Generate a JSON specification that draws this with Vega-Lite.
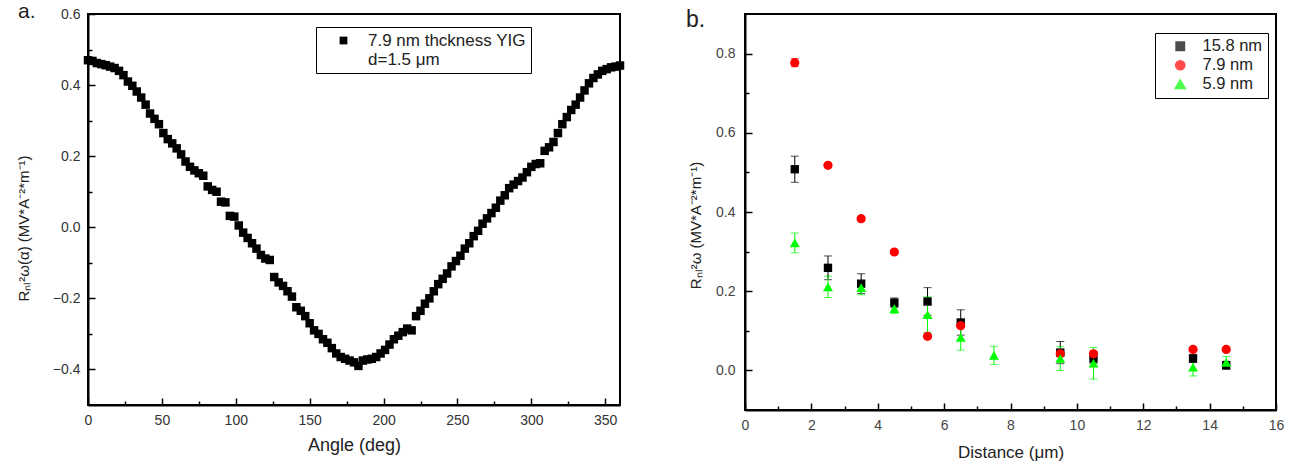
{
  "$schema": "https://vega.github.io/schema/vega-lite/v6.json",
  "background": "white",
  "padding": {"left": 15, "top": 0, "right": 5, "bottom": 5},
  "spacing": 59,
  "resolve": {
    "scale": {"color": "independent", "shape": "independent", "size": "independent"},
    "legend": {"color": "independent", "shape": "independent", "size": "independent"}
  },
  "config": {
    "font": "Liberation Sans",
    "view": {"stroke": "black", "strokeWidth": 2},
    "axis": {
      "grid": false, "domainColor": "black", "domainWidth": 2, "tickColor": "black", "tickWidth": 1.5,
      "labelFont": "Liberation Sans", "labelFontSize": 14, "labelColor": "#333333",
      "titleFont": "Liberation Sans", "titleFontSize": 18, "titleFontWeight": "normal", "titleColor": "#222222",
      "labelFlush": false, "labelOverlap": false
    },
    "title": {"fontSize": 23, "fontWeight": "normal", "anchor": "start", "frame": "group", "baseline": "alphabetic", "color": "#222222"},
    "legend": {"strokeColor": "black", "fillColor": "white", "labelFont": "Liberation Sans", "labelFontSize": 16.5, "labelColor": "#222222", "labelLimit": 0}
  },
  "hconcat": [
    {
      "width": 532, "height": 391,
      "title": {"text": "a.", "dx": -70, "offset": -15, "fontSize": 21},
      "data": {"values": [
        {"a":0,"r":0.470,"s":"YIG"},{"a":3,"r":0.468,"s":"YIG"},{"a":6,"r":0.462,"s":"YIG"},{"a":9,"r":0.459,"s":"YIG"},
        {"a":12,"r":0.456,"s":"YIG"},{"a":15,"r":0.452,"s":"YIG"},{"a":18,"r":0.448,"s":"YIG"},{"a":21,"r":0.440,"s":"YIG"},
        {"a":24,"r":0.428,"s":"YIG"},{"a":27,"r":0.410,"s":"YIG"},{"a":30,"r":0.398,"s":"YIG"},{"a":33,"r":0.382,"s":"YIG"},
        {"a":36,"r":0.365,"s":"YIG"},{"a":39,"r":0.345,"s":"YIG"},{"a":42,"r":0.320,"s":"YIG"},{"a":45,"r":0.305,"s":"YIG"},
        {"a":48,"r":0.290,"s":"YIG"},{"a":51,"r":0.265,"s":"YIG"},{"a":54,"r":0.248,"s":"YIG"},{"a":57,"r":0.236,"s":"YIG"},
        {"a":60,"r":0.222,"s":"YIG"},{"a":63,"r":0.205,"s":"YIG"},{"a":66,"r":0.185,"s":"YIG"},{"a":69,"r":0.170,"s":"YIG"},
        {"a":72,"r":0.160,"s":"YIG"},{"a":75,"r":0.152,"s":"YIG"},{"a":78,"r":0.145,"s":"YIG"},{"a":81,"r":0.115,"s":"YIG"},
        {"a":84,"r":0.105,"s":"YIG"},{"a":87,"r":0.100,"s":"YIG"},{"a":90,"r":0.072,"s":"YIG"},{"a":93,"r":0.070,"s":"YIG"},
        {"a":96,"r":0.032,"s":"YIG"},{"a":99,"r":0.030,"s":"YIG"},{"a":102,"r":0.005,"s":"YIG"},{"a":105,"r":-0.015,"s":"YIG"},
        {"a":108,"r":-0.030,"s":"YIG"},{"a":111,"r":-0.045,"s":"YIG"},{"a":114,"r":-0.060,"s":"YIG"},{"a":117,"r":-0.078,"s":"YIG"},
        {"a":120,"r":-0.088,"s":"YIG"},{"a":123,"r":-0.092,"s":"YIG"},{"a":126,"r":-0.140,"s":"YIG"},{"a":129,"r":-0.155,"s":"YIG"},
        {"a":132,"r":-0.165,"s":"YIG"},{"a":135,"r":-0.180,"s":"YIG"},{"a":138,"r":-0.195,"s":"YIG"},{"a":141,"r":-0.225,"s":"YIG"},
        {"a":144,"r":-0.235,"s":"YIG"},{"a":147,"r":-0.250,"s":"YIG"},{"a":150,"r":-0.270,"s":"YIG"},{"a":153,"r":-0.290,"s":"YIG"},
        {"a":156,"r":-0.300,"s":"YIG"},{"a":159,"r":-0.315,"s":"YIG"},{"a":162,"r":-0.325,"s":"YIG"},{"a":165,"r":-0.340,"s":"YIG"},
        {"a":168,"r":-0.355,"s":"YIG"},{"a":171,"r":-0.365,"s":"YIG"},{"a":174,"r":-0.370,"s":"YIG"},{"a":177,"r":-0.375,"s":"YIG"},
        {"a":180,"r":-0.380,"s":"YIG"},{"a":183,"r":-0.390,"s":"YIG"},{"a":186,"r":-0.375,"s":"YIG"},{"a":189,"r":-0.372,"s":"YIG"},
        {"a":192,"r":-0.370,"s":"YIG"},{"a":195,"r":-0.365,"s":"YIG"},{"a":198,"r":-0.355,"s":"YIG"},{"a":201,"r":-0.345,"s":"YIG"},
        {"a":204,"r":-0.330,"s":"YIG"},{"a":207,"r":-0.315,"s":"YIG"},{"a":210,"r":-0.305,"s":"YIG"},{"a":213,"r":-0.295,"s":"YIG"},
        {"a":216,"r":-0.285,"s":"YIG"},{"a":219,"r":-0.290,"s":"YIG"},{"a":222,"r":-0.250,"s":"YIG"},{"a":225,"r":-0.235,"s":"YIG"},
        {"a":228,"r":-0.215,"s":"YIG"},{"a":231,"r":-0.200,"s":"YIG"},{"a":234,"r":-0.180,"s":"YIG"},{"a":237,"r":-0.160,"s":"YIG"},
        {"a":240,"r":-0.145,"s":"YIG"},{"a":243,"r":-0.130,"s":"YIG"},{"a":246,"r":-0.110,"s":"YIG"},{"a":249,"r":-0.095,"s":"YIG"},
        {"a":252,"r":-0.080,"s":"YIG"},{"a":255,"r":-0.060,"s":"YIG"},{"a":258,"r":-0.045,"s":"YIG"},{"a":261,"r":-0.025,"s":"YIG"},
        {"a":264,"r":-0.010,"s":"YIG"},{"a":267,"r":0.010,"s":"YIG"},{"a":270,"r":0.025,"s":"YIG"},{"a":273,"r":0.040,"s":"YIG"},
        {"a":276,"r":0.055,"s":"YIG"},{"a":279,"r":0.075,"s":"YIG"},{"a":282,"r":0.090,"s":"YIG"},{"a":285,"r":0.110,"s":"YIG"},
        {"a":288,"r":0.120,"s":"YIG"},{"a":291,"r":0.130,"s":"YIG"},{"a":294,"r":0.140,"s":"YIG"},{"a":297,"r":0.155,"s":"YIG"},
        {"a":300,"r":0.170,"s":"YIG"},{"a":303,"r":0.178,"s":"YIG"},{"a":306,"r":0.180,"s":"YIG"},{"a":309,"r":0.215,"s":"YIG"},
        {"a":312,"r":0.225,"s":"YIG"},{"a":315,"r":0.240,"s":"YIG"},{"a":318,"r":0.265,"s":"YIG"},{"a":321,"r":0.290,"s":"YIG"},
        {"a":324,"r":0.310,"s":"YIG"},{"a":327,"r":0.330,"s":"YIG"},{"a":330,"r":0.345,"s":"YIG"},{"a":333,"r":0.365,"s":"YIG"},
        {"a":336,"r":0.385,"s":"YIG"},{"a":339,"r":0.405,"s":"YIG"},{"a":342,"r":0.420,"s":"YIG"},{"a":345,"r":0.430,"s":"YIG"},
        {"a":348,"r":0.440,"s":"YIG"},{"a":351,"r":0.445,"s":"YIG"},{"a":354,"r":0.450,"s":"YIG"},{"a":357,"r":0.452,"s":"YIG"},
        {"a":360,"r":0.455,"s":"YIG"}
      ]},
      "mark": {"type": "point", "shape": "square", "filled": true, "size": 72, "opacity": 1},
      "encoding": {
        "x": {"field": "a", "type": "quantitative", "scale": {"domain": [0, 360], "nice": false},
          "axis": {"title": "Angle (deg)", "values": [0,25,50,75,100,125,150,175,200,225,250,275,300,325,350],
            "labelExpr": "datum.value % 50 === 0 ? datum.label : ''",
            "tickSize": {"condition": {"test": "datum.value % 50 === 0", "value": -7}, "value": -4},
            "labelPadding": 15, "titlePadding": 6}},
        "y": {"field": "r", "type": "quantitative", "scale": {"domain": [-0.5, 0.6], "nice": false, "zero": false},
          "axis": {"title": "Rₙₗ²ω(α) (MV*A⁻²*m⁻¹)", "values": [-0.4,-0.3,-0.2,-0.1,0,0.1,0.2,0.3,0.4,0.5,0.6],
            "format": ".1f",
            "labelExpr": "abs(round(datum.value*10)) % 2 === 0 ? datum.label : ''",
            "tickSize": {"condition": {"test": "abs(round(datum.value*10)) % 2 === 0", "value": -7}, "value": -4},
            "labelPadding": 15, "titlePadding": 21, "titleFontSize": 15, "titleY": 214}},
        "color": {"field": "s", "type": "nominal", "scale": {"range": ["#000000"]},
          "legend": {"orient": "none", "legendX": 228, "legendY": 13, "title": null, "padding": 5,
            "symbolType": "square", "symbolSize": 60, "symbolOffset": 14, "labelOffset": 16, "labelFontSize": 17,
            "labelExpr": "['7.9 nm thckness YIG', 'd=1.5 μm']",
            "encode": {"labels": {"update": {"dy": {"value": 11}, "lineHeight": {"value": 22}}}}}}
      }
    },
    {
      "width": 531, "height": 396,
      "title": {"text": "b.", "dx": -59, "offset": -18},
      "data": {"values": [
        {"d":1.5,"r":0.508,"e":0.033,"series":"15.8 nm"},
        {"d":2.5,"r":0.259,"e":0.030,"series":"15.8 nm"},
        {"d":3.5,"r":0.219,"e":0.025,"series":"15.8 nm"},
        {"d":4.5,"r":0.171,"e":0.012,"series":"15.8 nm"},
        {"d":5.5,"r":0.174,"e":0.035,"series":"15.8 nm"},
        {"d":6.5,"r":0.121,"e":0.032,"series":"15.8 nm"},
        {"d":9.5,"r":0.045,"e":0.028,"series":"15.8 nm"},
        {"d":10.5,"r":0.030,"e":0.012,"series":"15.8 nm"},
        {"d":13.5,"r":0.030,"e":0.010,"series":"15.8 nm"},
        {"d":14.5,"r":0.013,"e":0.010,"series":"15.8 nm"},
        {"d":1.5,"r":0.777,"e":0.010,"series":"7.9 nm"},
        {"d":2.5,"r":0.518,"e":0.005,"series":"7.9 nm"},
        {"d":3.5,"r":0.383,"e":0.005,"series":"7.9 nm"},
        {"d":4.5,"r":0.299,"e":0.005,"series":"7.9 nm"},
        {"d":5.5,"r":0.086,"e":0.005,"series":"7.9 nm"},
        {"d":6.5,"r":0.113,"e":0.005,"series":"7.9 nm"},
        {"d":9.5,"r":0.042,"e":0.005,"series":"7.9 nm"},
        {"d":10.5,"r":0.042,"e":0.005,"series":"7.9 nm"},
        {"d":13.5,"r":0.053,"e":0.005,"series":"7.9 nm"},
        {"d":14.5,"r":0.053,"e":0.005,"series":"7.9 nm"},
        {"d":1.5,"r":0.322,"e":0.025,"series":"5.9 nm"},
        {"d":2.5,"r":0.211,"e":0.027,"series":"5.9 nm"},
        {"d":3.5,"r":0.209,"e":0.018,"series":"5.9 nm"},
        {"d":4.5,"r":0.156,"e":0.012,"series":"5.9 nm"},
        {"d":5.5,"r":0.141,"e":0.045,"series":"5.9 nm"},
        {"d":6.5,"r":0.083,"e":0.032,"series":"5.9 nm"},
        {"d":7.5,"r":0.038,"e":0.023,"series":"5.9 nm"},
        {"d":9.5,"r":0.030,"e":0.030,"series":"5.9 nm"},
        {"d":10.5,"r":0.018,"e":0.040,"series":"5.9 nm"},
        {"d":13.5,"r":0.008,"e":0.022,"series":"5.9 nm"},
        {"d":14.5,"r":0.020,"e":0.015,"series":"5.9 nm"}
      ]},
      "encoding": {
        "x": {"field": "d", "type": "quantitative", "scale": {"domain": [0, 16], "nice": false},
          "axis": {"title": "Distance (μm)", "values": [0,1,2,3,4,5,6,7,8,9,10,11,12,13,14,15,16],
            "labelExpr": "datum.value % 2 === 0 ? datum.label : ''",
            "tickSize": {"condition": {"test": "datum.value % 2 === 0", "value": -7}, "value": -4},
            "labelPadding": 15, "titlePadding": 9, "titleFontSize": 17, "labelColor": "#444444"}},
        "y": {"field": "r", "type": "quantitative", "scale": {"domain": [-0.1, 0.9], "nice": false, "zero": false},
          "axis": {"title": "Rₙₗ²ω (MV*A⁻²*m⁻¹)", "values": [0,0.1,0.2,0.3,0.4,0.5,0.6,0.7,0.8],
            "format": ".1f",
            "labelExpr": "abs(round(datum.value*10)) % 2 === 0 ? datum.label : ''",
            "tickSize": {"condition": {"test": "abs(round(datum.value*10)) % 2 === 0", "value": -7}, "value": -4},
            "labelPadding": 17, "titlePadding": 12, "titleFontSize": 15, "labelColor": "#444444", "titleY": 211}},
        "color": {"field": "series", "type": "nominal",
          "scale": {"domain": ["15.8 nm","7.9 nm","5.9 nm"], "range": ["#000000","#ff0000","#00ff00"]},
          "legend": {"orient": "none", "legendX": 410, "legendY": 19, "title": null, "padding": 5,
            "symbolOffset": 12, "labelOffset": 14, "rowPadding": 2}}
      },
      "layer": [
        {
          "mark": {"type": "errorbar", "ticks": {"size": 8}, "thickness": 1},
          "encoding": {"yError": {"field": "e"}}
        },
        {
          "mark": {"type": "point", "filled": true, "opacity": 1},
          "encoding": {
            "shape": {"field": "series", "type": "nominal",
              "scale": {"domain": ["15.8 nm","7.9 nm","5.9 nm"], "range": ["square","circle","triangle-up"]}},
            "size": {"field": "series", "type": "nominal",
              "scale": {"domain": ["15.8 nm","7.9 nm","5.9 nm"], "range": [70,100,130]}}
          }
        }
      ]
    }
  ]
}
